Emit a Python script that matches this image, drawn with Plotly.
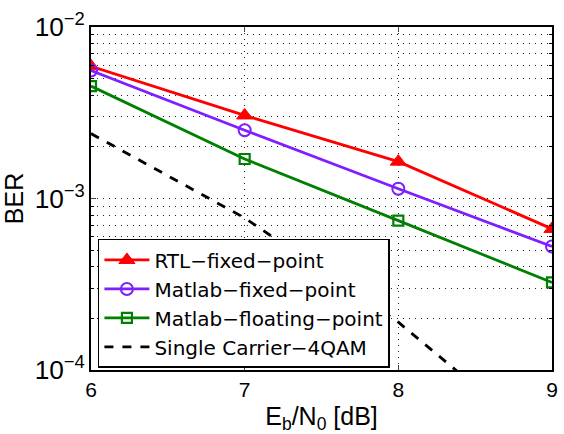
import plotly.graph_objects as go

ebn0 = [6, 7, 8, 9]
rtl_fixed = [5.9e-3, 3.05e-3, 1.64e-3, 6.65e-4]
matlab_fixed = [5.58e-3, 2.50e-3, 1.14e-3, 5.25e-4]
matlab_float = [4.52e-3, 1.70e-3, 7.43e-4, 3.24e-4]
single_carrier = [2.39e-3, 7.7e-4, 1.9e-4, 3.4e-5]

names = ["RTL\u2212fixed\u2212point", "Matlab\u2212fixed\u2212point",
         "Matlab\u2212floating\u2212point", "Single Carrier\u22124QAM"]

FONT = "Liberation Sans, Arial, Helvetica, sans-serif"
LEGFONT = "DejaVu Sans, Liberation Sans, sans-serif"
GRID = "#222"
DOT = "1px,5px"

fig = go.Figure()
fig.add_trace(go.Scatter(x=ebn0, y=rtl_fixed, name=names[0], mode="lines+markers",
                         line=dict(color="#ff0000", width=2.8),
                         marker=dict(symbol="triangle-up", size=14, color="#ff0000",
                                     line=dict(color="#ff0000", width=1))))
fig.add_trace(go.Scatter(x=ebn0, y=matlab_fixed, name=names[1], mode="lines+markers",
                         line=dict(color="#7f1fff", width=2.8),
                         marker=dict(symbol="circle-open", size=12, color="#7f1fff",
                                     line=dict(color="#7f1fff", width=2))))
fig.add_trace(go.Scatter(x=ebn0, y=matlab_float, name=names[2], mode="lines+markers",
                         line=dict(color="#008000", width=2.8),
                         marker=dict(symbol="square-open", size=10, color="#008000",
                                     line=dict(color="#008000", width=2.2))))
fig.add_trace(go.Scatter(x=ebn0, y=single_carrier, name=names[3], mode="lines",
                         line=dict(color="black", width=2.8, dash="dash")))

fig.update_layout(
    width=564, height=434,
    margin=dict(l=91, r=6, t=27, b=64),
    paper_bgcolor="white", plot_bgcolor="white",
    font=dict(family=FONT, size=21, color="black"),
    showlegend=True,
    legend=dict(x=0.015, y=0.382, xanchor="left", yanchor="top",
                bgcolor="white", bordercolor="black", borderwidth=1.5,
                font=dict(size=20, family=LEGFONT), itemwidth=45, tracegroupgap=0),
    xaxis=dict(range=[6, 9], tickvals=ebn0, ticks="inside", ticklen=5,
               showline=True, linecolor="black", linewidth=2, mirror="allticks",
               showgrid=True, gridcolor=GRID, griddash=DOT, gridwidth=1,
               zeroline=False,
               title=dict(text="E<sub>b</sub>/N<sub>0</sub> [dB]", standoff=8)),
    yaxis=dict(type="log", range=[-4, -2], dtick=1, exponentformat="power",
               ticks="inside", ticklen=5,
               showline=True, linecolor="black", linewidth=2, mirror="allticks",
               showgrid=True, gridcolor=GRID, griddash=DOT, gridwidth=1,
               zeroline=False,
               minor=dict(dtick="D1", showgrid=True, gridcolor=GRID, griddash=DOT,
                          ticks="inside", ticklen=3, tickcolor="black"),
               title=dict(text="BER", standoff=6)),
)

fig.write_html("out.html")
